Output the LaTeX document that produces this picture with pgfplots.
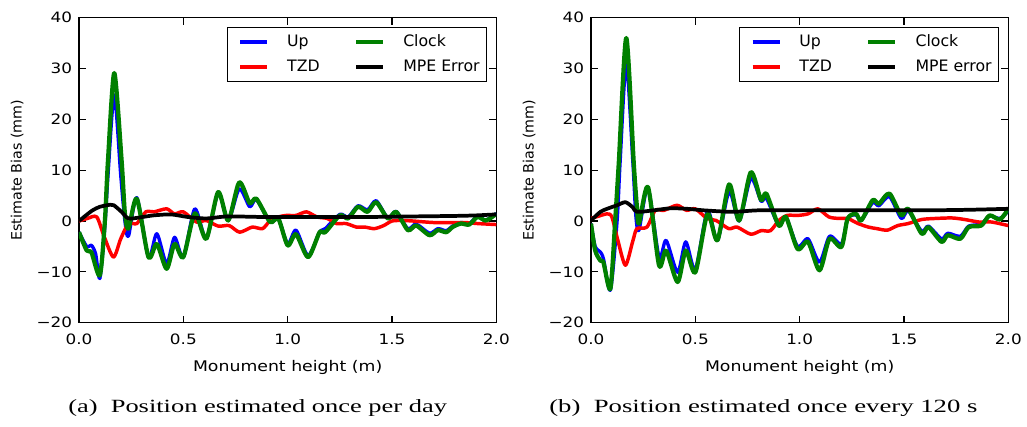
\documentclass[border=0pt]{standalone}
\usepackage{fontspec}
\usepackage{graphicx}
\usepackage{pgfplots}
\pgfplotsset{compat=1.18}
\newfontfamily\axfont{DejaVu Sans}[FakeStretch=1.18]
\newfontfamily\ylfont{DejaVu Sans}
\newfontfamily\capfont{Liberation Serif}
\definecolor{cup}{RGB}{0,0,255}
\definecolor{ctzd}{RGB}{255,0,0}
\definecolor{cclk}{RGB}{0,128,0}

\pgfplotsset{
  biasplot/.style={
    scale only axis, width=313pt, height=228.75pt,
    clip mode=individual,
    xmin=0, xmax=2, ymin=-20, ymax=40,
    xtick={0,0.5,1,1.5,2}, xticklabels={0.0,0.5,1.0,1.5,2.0},
    ytick={-20,-10,0,10,20,30,40}, yticklabels={−20,−10,0,10,20,30,40},
    tick align=inside, xtick pos=both, ytick pos=both,
    major tick length=5.25pt,
    axis line style={line width=1.1pt},
    every tick/.style={black, line width=0.9pt},
    tick label style={font=\fontsize{10.7}{12}\axfont},
    xticklabel style={anchor=north, inner sep=0pt, yshift=-8.5pt},
    yticklabel style={anchor=east, inner sep=0pt, xshift=-5pt},
    xlabel={Monument height (m)},
    every axis x label/.style={at={(axis description cs:0.5,-0.161)}, anchor=base, font=\fontsize{11}{12}\axfont},
    ylabel={Estimate Bias (mm)},
    every axis y label/.style={at={(axis description cs:-0.148,0.5)}, rotate=90, anchor=center, font=\fontsize{10.7}{12}\ylfont},
    legend columns=2, transpose legend, legend cell align=left,
    legend image code/.code={\path (0pt,0pt); \draw[#1] (5pt,0pt) -- (25.25pt,0pt);},
    legend style={at={(axis description cs:0.978,0.97)}, anchor=north east,
      draw=black, line width=0.8pt, inner xsep=3.25pt, inner ysep=4pt,
      font=\fontsize{11.8}{14}\ylfont, row sep=4.85pt,
      nodes={inner xsep=2pt, inner ysep=1pt, text height=9.2pt, text depth=2.7pt},
      /tikz/every odd column/.append style={column sep=11.5pt},
      /tikz/every even column/.append style={column sep=18.75pt}},
    every axis plot/.append style={smooth, tension=0.45, line join=round},
    upline/.style={cup, line width=2.5pt},
    tzdline/.style={ctzd, line width=2.6pt},
    clkline/.style={cclk, line width=3.2pt},
    mpeline/.style={black, line width=2.8pt},
  }
}

\begin{document}
\begin{tikzpicture}
\useasboundingbox (-59.25pt,-77.5pt) rectangle (711pt,242pt);
% (a) position estimated once per day
\begin{axis}[biasplot, at={(0,0)}, anchor=south west]
\addplot[upline] coordinates {
(0,-2.2) (0.037,-5.0) (0.06,-4.8) (0.08,-6.5) (0.10,-11.3) (0.124,-1) (0.139,9)
(0.169,24.8) (0.20,9) (0.22,0) (0.237,-3) (0.277,4.6) (0.333,-7.1) (0.373,-2.5)
(0.42,-8.4) (0.458,-3.2) (0.5,-7.1) (0.555,2.4) (0.61,-3.5) (0.667,5.5) (0.715,0.1)
(0.768,6.3) (0.818,2.8) (0.85,4.2) (0.916,-0.2) (0.955,0.5) (1.0,-4.5) (1.04,-1.8)
(1.098,-6.8) (1.153,-2.2) (1.18,-1.5) (1.25,1.3) (1.29,0.8) (1.337,3.0) (1.383,2.2)
(1.424,4.0) (1.48,0.6) (1.52,1.9) (1.576,-1.5) (1.616,-0.6) (1.68,-2.4) (1.72,-1.5)
(1.76,-1.9) (1.79,-1.0) (1.83,-0.3) (1.87,-0.5) (1.91,0.9) (1.95,0.2) (2.0,1.5)};
\addplot[tzdline] coordinates {
(0,0) (0.04,0.5) (0.085,0.8) (0.12,-3) (0.165,-7.1) (0.20,-3.5) (0.237,-0.5)
(0.277,-0.5) (0.32,1.8) (0.36,1.8) (0.42,2.4) (0.458,1.4) (0.5,1.8) (0.563,-0.2)
(0.61,0.1) (0.667,-1.0) (0.72,-0.9) (0.77,-2.2) (0.83,-1.2) (0.88,-1.5) (0.916,0.1)
(0.955,0.8) (0.994,1.1) (1.04,1.1) (1.09,1.8) (1.14,0.8) (1.19,0.5) (1.233,-0.5)
(1.28,-0.5) (1.33,-1.2) (1.37,-1.2) (1.416,-1.5) (1.46,-0.9) (1.5,0) (1.55,0.1)
(1.6,0) (1.7,-0.3) (1.8,-0.3) (1.85,-0.3) (1.91,-0.5) (2.0,-0.7)};
\addplot[clkline] coordinates {
(0,-2.2) (0.037,-5.8) (0.06,-6.2) (0.10,-10.7) (0.124,0) (0.139,12) (0.169,29.1)
(0.204,12) (0.22,1.5) (0.237,-1.5) (0.277,4.4) (0.333,-7.1) (0.373,-4.5) (0.42,-9.4)
(0.458,-4.5) (0.5,-7.1) (0.555,1.5) (0.61,-3.5) (0.667,5.7) (0.715,0.1) (0.768,7.6)
(0.818,3.5) (0.85,4.4) (0.916,-0.2) (0.955,0.5) (1.0,-4.8) (1.04,-2.6) (1.098,-7.1)
(1.153,-2.2) (1.18,-2.2) (1.25,1.1) (1.29,0.5) (1.337,2.8) (1.383,1.8) (1.424,3.7)
(1.48,0.5) (1.52,1.8) (1.576,-1.8) (1.616,-0.9) (1.68,-2.8) (1.72,-1.8) (1.76,-2.2)
(1.79,-1.2) (1.83,-0.5) (1.87,-0.7) (1.91,0.8) (1.95,0.1) (2.0,1.4)};
\addplot[mpeline] coordinates {
(0,0) (0.03,1) (0.065,2.1) (0.1,2.8) (0.15,3.2) (0.167,3.1) (0.204,1.8) (0.237,0.5)
(0.29,0.7) (0.356,1.1) (0.44,1.3) (0.52,0.8) (0.61,0.5) (0.71,0.9) (0.87,0.8)
(1.0,0.8) (1.2,0.8) (1.4,0.8) (1.6,0.9) (1.8,1.0) (1.9,1.1) (2.0,1.3)};
\legend{Up, TZD, Clock, MPE Error}
\node[anchor=base, font=\fontsize{14}{16}\capfont] at (axis description cs:0.428,-0.295)
  {\resizebox{284pt}{\height}{(a)\ \ Position estimated once per day}};
\end{axis}
% (b) position estimated once every 120 s
\begin{axis}[biasplot, at={(384pt,0)}, anchor=south west]
\addplot[upline] coordinates {
(0,-0.5) (0.02,-5) (0.045,-6.1) (0.06,-7.5) (0.093,-13.6) (0.125,0) (0.14,12)
(0.169,31.1) (0.20,12) (0.215,1) (0.23,-1.8) (0.273,6.5) (0.326,-7.1) (0.36,-3.8)
(0.415,-10.1) (0.454,-4.1) (0.5,-9.5) (0.558,2.0) (0.606,-3.8) (0.662,5.8) (0.71,0.0)
(0.766,8.4) (0.815,3.9) (0.84,4.5) (0.9,-0.9) (0.934,0.8) (0.99,-5.0) (1.04,-3.5)
(1.095,-8.1) (1.143,-3.0) (1.2,-4.5) (1.23,0.5) (1.27,1.2) (1.295,0.1) (1.35,3.6)
(1.38,3.0) (1.43,4.8) (1.487,0.5) (1.52,2.0) (1.585,-2.0) (1.617,-1.0) (1.68,-3.5)
(1.71,-2.4) (1.77,-3.0) (1.81,-1.0) (1.87,-0.6) (1.91,1.0) (1.96,0.5) (2.0,2.0)};
\addplot[tzdline] coordinates {
(0,0.5) (0.04,1.0) (0.077,1.4) (0.1,0.8) (0.13,-4) (0.165,-8.7) (0.2,-4) (0.22,-1.5)
(0.268,-1.2) (0.308,2.1) (0.35,2.1) (0.412,3.1) (0.458,2.1) (0.5,2.4) (0.556,0.5)
(0.6,0.1) (0.66,-1.5) (0.7,-1.2) (0.766,-2.6) (0.815,-1.9) (0.86,-1.9) (0.9,0.1)
(0.94,1.1) (0.99,1.1) (1.04,1.4) (1.087,2.4) (1.14,0.8) (1.19,0.5) (1.23,0.5)
(1.28,-0.5) (1.33,-1.2) (1.37,-1.5) (1.42,-1.8) (1.47,-0.9) (1.52,-0.5) (1.585,0.3)
(1.65,0.5) (1.73,0.6) (1.79,0.3) (1.86,-0.2) (1.92,-0.2) (2.0,-0.9)};
\addplot[clkline] coordinates {
(0,-0.5) (0.02,-5.8) (0.045,-7.8) (0.06,-8.2) (0.093,-13.3) (0.117,0.8) (0.133,11.3)
(0.169,36.0) (0.205,11.3) (0.22,2.8) (0.23,-0.5) (0.273,6.7) (0.326,-8.7) (0.36,-5.8)
(0.415,-12.0) (0.454,-5.8) (0.5,-10.1) (0.558,1.4) (0.606,-3.8) (0.662,7.2) (0.71,0.1)
(0.766,9.6) (0.815,4.1) (0.84,5.4) (0.9,-0.9) (0.934,0.8) (0.99,-5.5) (1.04,-4.1)
(1.095,-9.7) (1.143,-3.5) (1.2,-5.1) (1.23,0.5) (1.27,1.4) (1.295,0.1) (1.35,4.1)
(1.38,3.4) (1.43,5.4) (1.487,1.1) (1.52,2.4) (1.585,-2.5) (1.617,-1.2) (1.68,-4.1)
(1.71,-2.8) (1.77,-3.5) (1.81,-1.2) (1.87,-0.9) (1.91,1.1) (1.96,0.3) (2.0,2.4)};
\addplot[mpeline] coordinates {
(0,0.1) (0.045,1.8) (0.077,2.4) (0.125,3.1) (0.165,3.7) (0.2,2.7) (0.22,1.8)
(0.3,2.1) (0.38,2.5) (0.46,2.4) (0.54,2.1) (0.68,1.8) (0.8,2.1) (1.0,2.1) (1.2,2.1)
(1.4,2.1) (1.6,2.1) (1.8,2.2) (2.0,2.4)};
\legend{Up, TZD, Clock, MPE error}
\node[anchor=base, font=\fontsize{14}{16}\capfont] at (axis description cs:0.413,-0.295)
  {\resizebox{321pt}{\height}{(b)\ \ Position estimated once every 120 s}};
\end{axis}
\end{tikzpicture}
\end{document}
